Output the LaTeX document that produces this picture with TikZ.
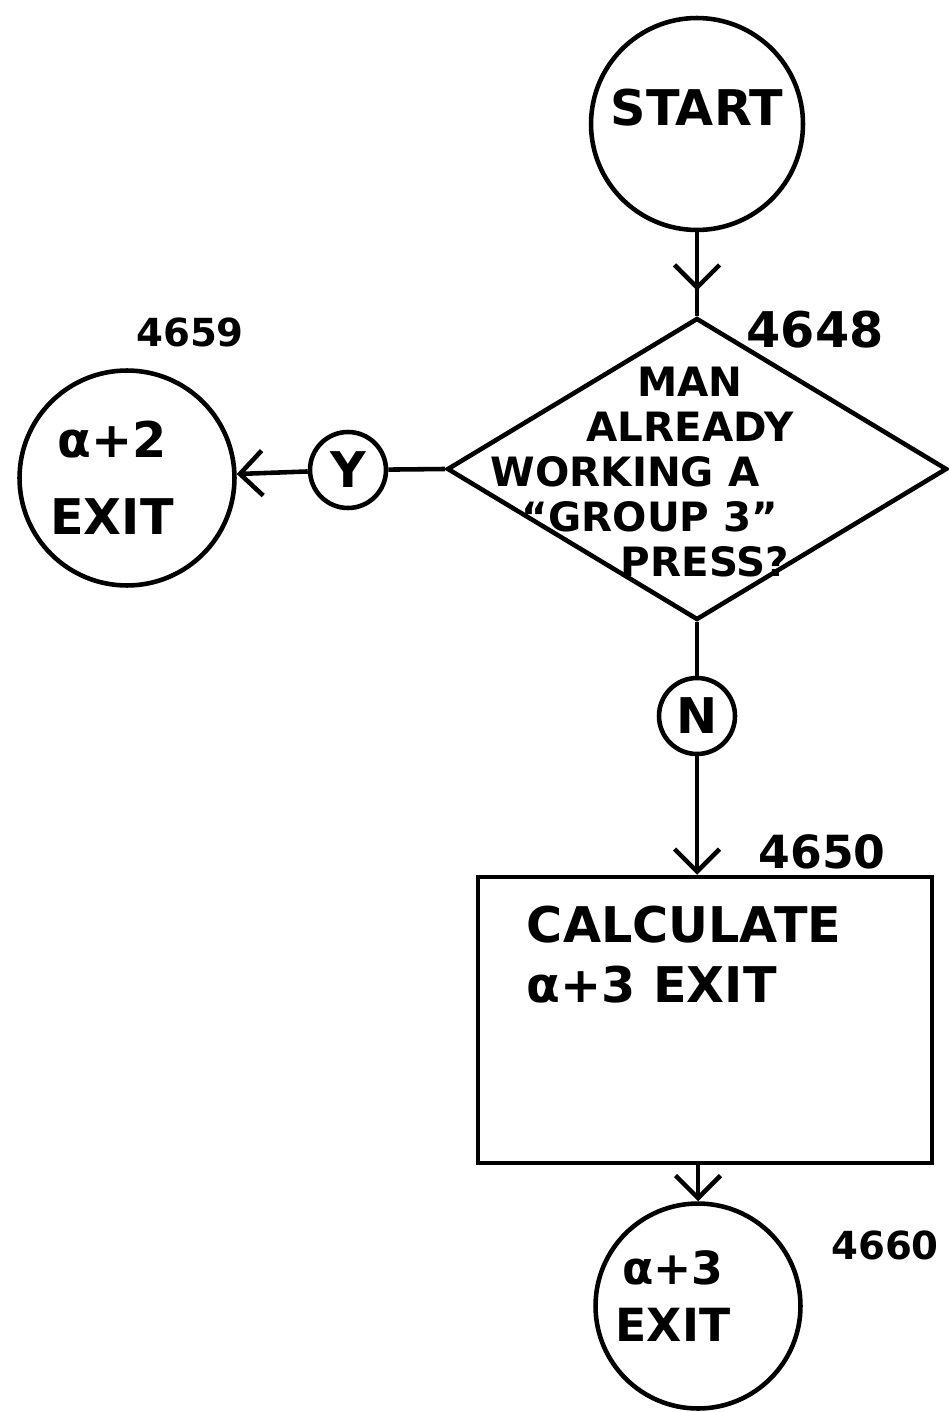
\documentclass[tikz,border=0pt]{standalone}
\usepackage{fontspec}
\setmainfont{DejaVu Sans}
\usetikzlibrary{shapes.geometric,arrows.meta,decorations.markings}

\newcommand\handfont[2]{\fontsize{#1}{#2}\selectfont\bfseries}

\tikzset{
  flowline/.style={line width=2.6pt,black},
  tipend/.style={-{Straight Barb[length=4.5mm,width=9mm]}},
  midtip/.style={postaction={decorate},decoration={markings,
      mark=at position #1 with {\arrow{Straight Barb[length=4.5mm,width=9mm]}}}},
  termcirc/.style={circle,draw,line width=2.6pt,minimum size=#1,inner sep=0pt},
  conncirc/.style={circle,draw,line width=2.6pt,minimum size=1.52cm,inner sep=0pt,
      font=\handfont{28}{30}},
  decbox/.style={diamond,draw,line width=2.6pt,aspect=1.66,inner sep=0pt,
      minimum width=10cm,minimum height=6.04cm},
  procbox/.style={rectangle,draw,line width=2.6pt,inner sep=0pt,
      minimum width=9.08cm,minimum height=5.72cm},
  refno/.style={font=\handfont{#1}{#1}}
}

\begin{document}
\begin{tikzpicture}[x=0.02cm,y=-0.02cm]
\useasboundingbox (0,0) rectangle (948,1412);

% shapes
\node[termcirc=4.24cm,label={[yshift=0.32cm,font=\handfont{28}{30}]center:START}] (start) at (697,124) {};
\node[decbox,label={[xshift=-0.14cm,yshift=-0.06cm,align=center,font=\handfont{23}{25.5}]center:%
  MAN\\ALREADY\\WORKING A\kern2.6cm\\``GROUP 3''\kern1.6cm\\\kern0.6cm PRESS?}] (dec) at (697,469) {};
\node[conncirc] (ycirc) at (348,470) {Y};
\node[termcirc=4.3cm,label={[xshift=-0.3cm,align=center,font=\handfont{28}{44}]center:α+2\\EXIT}] (exit2) at (127,478) {};
\node[conncirc] (ncirc) at (697,716) {N};
\node[procbox,label={[anchor=north west,xshift=0.9cm,yshift=-0.5cm,align=left,font=\handfont{28}{34}]north west:%
  CALCULATE\\α+3 EXIT}] (calc) at (705,1020) {};
\node[termcirc=4.1cm,label={[xshift=-0.5cm,yshift=0.2cm,align=center,font=\handfont{26}{32}]center:α+3\\EXIT}] (exit3) at (698,1306) {};

% reference numbers
\node[refno=22] (n4659) at (190,332) {4659};
\node[refno=28] (n4648) at (815,330) {4648};
\node[refno=26] (n4650) at (822,852) {4650};
\node[refno=22] (n4660) at (885,1245) {4660};

% connectors
\draw[flowline,midtip=0.7] (start) -- (dec.north);
\draw[flowline] (dec.west) -- (ycirc);
\draw[flowline,tipend] (ycirc) -- (exit2);
\draw[flowline] (dec.south) -- (ncirc);
\draw[flowline,tipend] (ncirc) -- (ncirc |- calc.north);
\draw[flowline,tipend] (exit3.north |- calc.south) -- (exit3);
\end{tikzpicture}
\end{document}
